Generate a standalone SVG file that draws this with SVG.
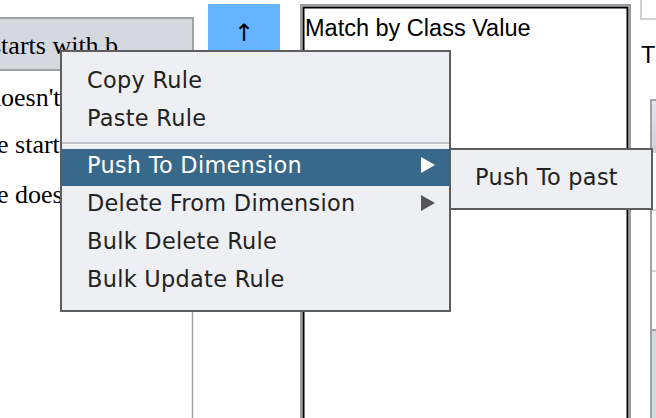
<svg xmlns="http://www.w3.org/2000/svg" width="656" height="418" viewBox="0 0 656 418">
<defs>
<style>
.serif{font-family:"Liberation Serif","Times New Roman",serif;font-size:26px;fill:#000}
.mi{font-family:"DejaVu Sans","Noto Sans",sans-serif;font-size:22.4px;letter-spacing:0.3px;fill:#222}
.sans{font-family:"Liberation Sans",Arial,sans-serif;font-size:23.5px;fill:#000}
.menu{fill:#eeeff3;stroke:#5e5e5e;stroke-width:2}
</style>
<linearGradient id="hdr" x1="0" y1="0" x2="0" y2="1">
<stop offset="0" stop-color="#e4e5ea"/>
<stop offset="1" stop-color="#cfd1d8"/>
</linearGradient>
</defs>
<rect width="656" height="418" fill="#ffffff"/>

<g id="left-table">
<rect x="-2" y="18" width="195" height="52" fill="#d6d8e0" stroke="#a0a2aa" stroke-width="2"/>
<line x1="192.5" y1="70" x2="192.5" y2="418" stroke="#a0a2aa" stroke-width="1.5"/>
<text class="serif" x="-9" y="54">starts with b</text>
<text class="serif" x="-12" y="106">doesn't</text>
<text class="serif" x="-3" y="153">e starts</text>
<text class="serif" x="-3" y="203">e does</text>
</g>

<g id="up-button">
<rect x="208" y="4" width="72" height="48" fill="#66b3ff"/>
<text x="244" y="41" text-anchor="middle" style="font-family:'DejaVu Sans',sans-serif;font-size:24px;fill:#000">↑</text>
</g>

<g id="match-box">
<rect x="301" y="5" width="329" height="430" fill="#ffffff" stroke="#9a9ca4" stroke-width="2"/>
<rect x="303.5" y="7.5" width="324" height="430" fill="none" stroke="#000" stroke-width="2"/>
<text class="sans" x="305" y="36">Match by Class Value</text>
</g>

<g id="right-strip">
<rect x="641" y="-2" width="20" height="21" fill="#fff" stroke="#c4c5ca" stroke-width="1.5"/>
<text class="sans" x="641" y="63">T</text>
<rect x="651" y="100" width="10" height="330" fill="#fff" stroke="#a0a2aa" stroke-width="2"/>
<rect x="652" y="101" width="8" height="50" fill="url(#hdr)"/>
<line x1="652" y1="152" x2="656" y2="152" stroke="#c4c5ca" stroke-width="1.5"/>
<line x1="652" y1="210" x2="656" y2="210" stroke="#c4c5ca" stroke-width="1.5"/>
<line x1="652" y1="271" x2="656" y2="271" stroke="#c4c5ca" stroke-width="1.5"/>
<rect x="652" y="330" width="8" height="90" fill="#d6d8e0"/>
<line x1="652" y1="330" x2="656" y2="330" stroke="#a0a2aa" stroke-width="2"/>
</g>

<g id="context-menu">
<rect class="menu" x="61" y="51" width="389" height="260"/>
<text class="mi" x="87" y="88">Copy Rule</text>
<text class="mi" x="87" y="126">Paste Rule</text>
<line x1="62" y1="143" x2="449" y2="143" stroke="#b3b5bb" stroke-width="1.5"/>
<line x1="62" y1="144.5" x2="449" y2="144.5" stroke="#fafafc" stroke-width="1"/>
<rect x="62" y="149" width="387" height="37" fill="#39698a"/>
<text class="mi" x="87" y="173" style="fill:#ffffff">Push To Dimension</text>
<polygon points="421,157 435,165 421,173" fill="#ffffff"/>
<text class="mi" x="87" y="211">Delete From Dimension</text>
<polygon points="421,195 435,203 421,211" fill="#555555"/>
<text class="mi" x="87" y="249">Bulk Delete Rule</text>
<text class="mi" x="87" y="287">Bulk Update Rule</text>
</g>

<g id="submenu">
<rect class="menu" x="450" y="149" width="202" height="60"/>
<text class="mi" x="475" y="185">Push To past</text>
</g>
</svg>
